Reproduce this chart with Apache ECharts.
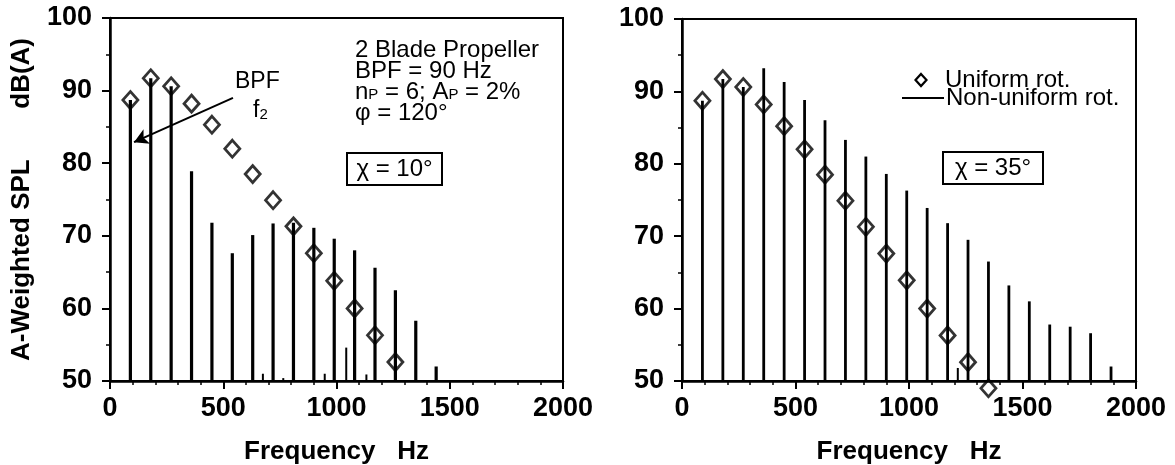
<!DOCTYPE html>
<html>
<head>
<meta charset="utf-8">
<script src="https://cdn.jsdelivr.net/npm/echarts@6/dist/echarts.min.js"></script>
<style>
html,body{margin:0;padding:0;background:#fff;}
#chart{width:1175px;height:465px;}
</style>
</head>
<body>
<div id="chart"></div>
<script>
// ---- data ----
// Left panel (chi = 10 deg): non-uniform rotation harmonics
var leftFreq = [90,180,270,360,450,540,630,720,810,900,990,1080,1170,1260,1350,1440];
var leftNonUniform = [88.7,91.7,90.6,78.9,71.8,67.6,70.1,71.7,71.8,71.1,69.6,68.0,65.6,62.5,58.3,52.0];
// Left panel small intermediate lines
var leftSmallFreq = [675,765,948,1043,1132];
var leftSmallVal = [51.0,50.4,51.0,54.6,50.9];
// Left panel uniform rotation (diamonds)
var leftUniFreq = [90,180,270,360,450,540,630,720,810,900,990,1080,1170,1260];
var leftUniform = [88.7,91.7,90.6,88.2,85.3,82.0,78.5,74.9,71.3,67.6,63.8,60.0,56.3,52.6];

// Right panel (chi = 35 deg)
var rightFreq = [90,180,270,360,450,540,630,720,810,900,990,1080,1170,1260,1350,1440,1530,1620,1710,1800,1890];
var rightNonUniform = [88.7,91.7,90.6,93.2,91.3,88.8,86.0,83.3,81.0,78.6,76.3,73.9,71.8,69.5,66.5,63.2,61.0,57.8,57.5,56.6,52.0];
var rightSmallFreq = [1215];
var rightSmallVal = [51.8];
var rightUniFreq = [90,180,270,360,450,540,630,720,810,900,990,1080,1170,1260,1350];
var rightUniform = [88.7,91.7,90.6,88.2,85.2,82.0,78.5,74.9,71.3,67.6,63.9,60.0,56.3,52.6,49.0];

var xTicks = [0,500,1000,1500,2000];
var yTicks = [50,60,70,80,90,100];

// ---- helpers ----
function zip(a,b){ return a.map(function(v,i){ return [v,b[i]]; }); }
function barRenderer(w){
  return function(params, api){
    var x = api.value(0), y = api.value(1);
    var top = api.coord([x,y]);
    var bot = api.coord([x,50]);
    return {type:'rect', shape:{x:top[0]-w/2, y:top[1], width:w, height:bot[1]-top[1]}, style:{fill:'#000'}};
  };
}
var tickFont = {fontFamily:'Liberation Sans', fontWeight:'bold', fontSize:27, color:'#000'};
function xAxisCfg(gi){
  return {
    type:'value', gridIndex:gi, min:xTicks[0], max:xTicks[xTicks.length-1], interval:500,
    axisLine:{show:true, lineStyle:{color:'#000', width:2.5}},
    axisTick:{show:true, inside:false, length:8, lineStyle:{color:'#000', width:2}},
    minorTick:{show:true, splitNumber:5, length:4, lineStyle:{color:'#000', width:1.5}},
    splitLine:{show:false},
    axisLabel:Object.assign({margin:14, formatter:function(v){ return String(v); }}, tickFont),
    name:'Frequency   Hz', nameLocation:'middle', nameGap:58,
    nameTextStyle:{fontFamily:'Liberation Sans', fontWeight:'bold', fontSize:26, color:'#000'}
  };
}
function yAxisCfg(gi, withName){
  var c = {
    type:'value', gridIndex:gi, min:yTicks[0], max:yTicks[yTicks.length-1], interval:10,
    axisLine:{show:true, lineStyle:{color:'#000', width:2.5}},
    axisTick:{show:true, inside:false, length:8, lineStyle:{color:'#000', width:2}},
    minorTick:{show:true, splitNumber:2, length:4, lineStyle:{color:'#000', width:1.5}},
    splitLine:{show:false},
    axisLabel:Object.assign({margin:18}, tickFont)
  };
  if(withName){
    c.name = 'A-Weighted SPL       dB(A)';
    c.nameLocation = 'middle';
    c.nameGap = 75;
    c.nameTextStyle = {fontFamily:'Liberation Sans', fontWeight:'bold', fontSize:26, color:'#000'};
  }
  return c;
}
var diamondStyle = {color:'rgba(0,0,0,0)', borderColor:'#000', borderWidth:2.8};
var annFont = 'Liberation Sans';

var chart = echarts.init(document.getElementById('chart'), null, {renderer:'canvas'});
chart.setOption({
  backgroundColor:'#fff',
  animation:false,
  grid:[
    {left:110, top:18, width:453, height:363, show:true, borderColor:'#000', borderWidth:2, backgroundColor:'transparent', containLabel:false, outerBoundsMode:'none'},
    {left:682, top:19, width:454, height:362, show:true, borderColor:'#000', borderWidth:2, backgroundColor:'transparent', containLabel:false, outerBoundsMode:'none'}
  ],
  xAxis:[xAxisCfg(0), xAxisCfg(1)],
  yAxis:[yAxisCfg(0,true), yAxisCfg(1,false)],
  series:[
    {type:'custom', xAxisIndex:0, yAxisIndex:0, renderItem:barRenderer(3.2), data:zip(leftFreq,leftNonUniform), z:2},
    {type:'custom', xAxisIndex:0, yAxisIndex:0, renderItem:barRenderer(2), data:zip(leftSmallFreq,leftSmallVal), z:2},
    {type:'scatter', xAxisIndex:0, yAxisIndex:0, symbol:'diamond', symbolSize:[15,17], itemStyle:diamondStyle,
     data:zip(leftUniFreq,leftUniform), z:3, clip:false,
     markLine:{silent:true, symbol:['none','arrow'], symbolSize:[12,14],
       lineStyle:{color:'#000', width:2, type:'solid'}, label:{show:false},
       data:[[{coord:[543,89.0]},{coord:[106,82.9]}]]}},
    {type:'custom', xAxisIndex:1, yAxisIndex:1, renderItem:barRenderer(2.8), data:zip(rightFreq,rightNonUniform), z:2},
    {type:'custom', xAxisIndex:1, yAxisIndex:1, renderItem:barRenderer(2), data:zip(rightSmallFreq,rightSmallVal), z:2},
    {type:'scatter', xAxisIndex:1, yAxisIndex:1, symbol:'diamond', symbolSize:[15,17], itemStyle:diamondStyle,
     data:zip(rightUniFreq,rightUniform), z:3, clip:false}
  ],
  graphic:[
    {type:'text', left:355, top:38, style:{
      text:'2 Blade Propeller\nBPF = 90 Hz\nn{s|P} = 6; A{s|P} = 2%\nφ = 120°',
      font:'24px '+annFont, fill:'#000', lineHeight:21,
      rich:{s:{font:'15px '+annFont, fill:'#000', verticalAlign:'bottom', padding:[6,0,0,0]}}
    }},
    {type:'rect', shape:{x:347, y:153, width:95, height:32}, style:{fill:'#fff', stroke:'#000', lineWidth:2}},
    {type:'text', x:394.5, y:169, style:{text:'χ = 10°', font:'24px '+annFont, fill:'#000', align:'center', verticalAlign:'middle'}},
    {type:'text', x:235, y:82, style:{text:'BPF', font:'23px '+annFont, fill:'#000', verticalAlign:'middle'}},
    {type:'text', x:253, y:111, style:{text:'f{s|2}', font:'23px '+annFont, fill:'#000', verticalAlign:'middle',
      rich:{s:{font:'15px '+annFont, fill:'#000', padding:[8,0,0,0]}}}},
    {type:'polygon', shape:{points:[[921,74],[926.5,80],[921,86],[915.5,80]]}, style:{fill:'none', stroke:'#000', lineWidth:2.2}},
    {type:'text', x:945, y:80, style:{text:'Uniform rot.', font:'24px '+annFont, fill:'#000', verticalAlign:'middle'}},
    {type:'line', shape:{x1:902, y1:98, x2:944, y2:98}, style:{stroke:'#000', lineWidth:1.8}},
    {type:'text', x:946, y:98, style:{text:'Non-uniform rot.', font:'24px '+annFont, fill:'#000', verticalAlign:'middle'}},
    {type:'rect', shape:{x:943, y:152, width:100, height:32}, style:{fill:'#fff', stroke:'#000', lineWidth:2}},
    {type:'text', x:993, y:168, style:{text:'χ = 35°', font:'24px '+annFont, fill:'#000', align:'center', verticalAlign:'middle'}}
  ]
});
</script>
</body>
</html>
